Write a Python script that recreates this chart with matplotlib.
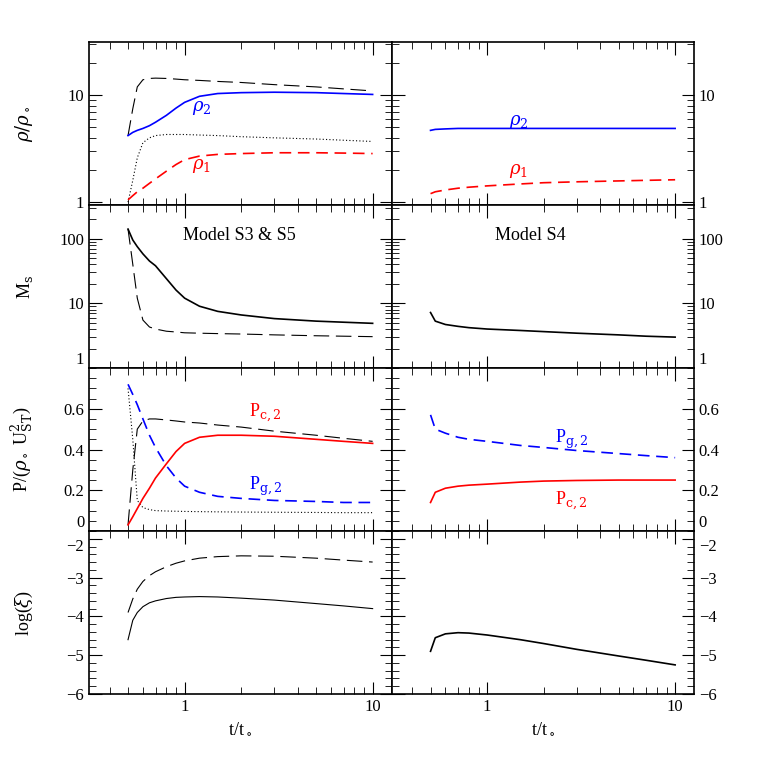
import matplotlib
matplotlib.use("Agg")
import matplotlib.pyplot as plt
from matplotlib.ticker import LogLocator, NullFormatter, FixedLocator, MultipleLocator

plt.rcParams["font.family"] = "Liberation Serif"
plt.rcParams["mathtext.fontset"] = "dejavuserif"

# ---- data ----
t_L = [0.5, 0.53, 0.56, 0.6, 0.65, 0.7, 0.8, 0.9, 1.0, 1.2, 1.5, 2.0, 3.0, 5.0, 7.0, 10.0]
rho2_L = [4.2, 4.5, 4.7, 4.9, 5.2, 5.6, 6.5, 7.6, 8.6, 9.8, 10.4, 10.6, 10.7, 10.6, 10.4, 10.2]
rhoD_L = [4.2, 7.5, 12.0, 14.0, 14.4, 14.5, 14.4, 14.2, 14.0, 13.8, 13.5, 13.2, 12.6, 12.0, 11.5, 11.0]
rhoP_L = [1.0, 1.6, 2.6, 3.6, 4.0, 4.2, 4.3, 4.3, 4.3, 4.25, 4.2, 4.1, 4.0, 3.9, 3.8, 3.7]
rho1_L = [1.05, 1.15, 1.25, 1.35, 1.5, 1.65, 1.95, 2.25, 2.5, 2.7, 2.8, 2.85, 2.9, 2.9, 2.88, 2.85]
t_R = [0.5, 0.53, 0.6, 0.7, 0.8, 1.0, 1.5, 2.0, 3.0, 5.0, 7.0, 10.0]
rho2_R = [4.7, 4.8, 4.85, 4.9, 4.9, 4.9, 4.9, 4.9, 4.9, 4.9, 4.9, 4.9]
rho1_R = [1.2, 1.25, 1.3, 1.35, 1.38, 1.42, 1.48, 1.52, 1.55, 1.58, 1.6, 1.62]

M_L = [140, 95, 75, 58, 45, 38, 24, 16, 12, 9.0, 7.5, 6.6, 5.8, 5.3, 5.1, 4.9]
MD_L = [140, 40, 12, 5.5, 4.3, 4.0, 3.7, 3.6, 3.5, 3.45, 3.4, 3.35, 3.25, 3.15, 3.1, 3.05]
M_R = [7.2, 5.3, 4.7, 4.4, 4.2, 4.0, 3.8, 3.65, 3.45, 3.25, 3.1, 3.0]

Pc_L = [0.03, 0.07, 0.11, 0.16, 0.21, 0.26, 0.33, 0.39, 0.43, 0.46, 0.47, 0.47, 0.465, 0.45, 0.44, 0.43]
Pg_L = [0.72, 0.67, 0.62, 0.55, 0.47, 0.41, 0.32, 0.26, 0.22, 0.19, 0.17, 0.16, 0.15, 0.145, 0.14, 0.14]
PD_L = [0.03, 0.3, 0.5, 0.54, 0.55, 0.55, 0.545, 0.54, 0.535, 0.53, 0.52, 0.51, 0.49, 0.47, 0.455, 0.44]
PP_L = [0.70, 0.45, 0.15, 0.115, 0.105, 0.1, 0.098, 0.097, 0.096, 0.095, 0.094, 0.093, 0.092, 0.091, 0.09, 0.09]
Pg_R = [0.57, 0.5, 0.48, 0.46, 0.45, 0.44, 0.42, 0.41, 0.395, 0.38, 0.37, 0.36]
Pc_R = [0.14, 0.19, 0.21, 0.22, 0.225, 0.23, 0.24, 0.245, 0.248, 0.25, 0.25, 0.25]

xi_L = [-4.6, -4.1, -3.9, -3.75, -3.65, -3.6, -3.54, -3.51, -3.5, -3.49, -3.5, -3.53, -3.58, -3.67, -3.73, -3.8]
xiD_L = [-3.9, -3.55, -3.3, -3.1, -2.95, -2.85, -2.72, -2.63, -2.57, -2.5, -2.46, -2.44, -2.45, -2.5, -2.55, -2.6]
xi_R = [-4.9, -4.55, -4.45, -4.42, -4.43, -4.48, -4.6, -4.7, -4.85, -5.02, -5.13, -5.25]

xlim = (0.31, 12.6)
ylims = [(0.94, 31.6), (1, 330), (0, 0.8), (-6, -1.8)]

fig = plt.figure(figsize=(7.63, 7.63), dpi=100)
gs = fig.add_gridspec(4, 2, left=89/763, right=694/763, top=1-42/763, bottom=1-694/763,
                      hspace=0, wspace=0)
axes = [[fig.add_subplot(gs[r, c]) for c in range(2)] for r in range(4)]

for c in range(2):
    for r in range(4):
        ax = axes[r][c]
        ax.set_xscale("log")
        ax.set_xlim(*xlim)
        if r < 2:
            ax.set_yscale("log")
        ax.set_ylim(*ylims[r])
        ax.tick_params(which="both", direction="in", top=True, right=True, labelsize=12)
        ax.tick_params(which="major", length=9)
        ax.tick_params(which="minor", length=5)
        ax.xaxis.set_major_locator(FixedLocator([1, 10]))
        ax.xaxis.set_minor_locator(LogLocator(subs=range(2, 10)))
        ax.xaxis.set_minor_formatter(NullFormatter())
        ax.set_xticklabels(["1", "10"])
        if r < 3:
            ax.tick_params(labelbottom=False)
        if c == 1:
            ax.tick_params(labelleft=False, labelright=True)
        for s in ax.spines.values():
            s.set_linewidth(1.2)

for ax in axes[0]:
    ax.yaxis.set_major_locator(FixedLocator([1, 10]))
    ax.yaxis.set_minor_locator(LogLocator(subs=range(2, 10)))
    ax.yaxis.set_minor_formatter(NullFormatter())
    ax.set_yticklabels(["1", "10"])
for ax in axes[1]:
    ax.yaxis.set_major_locator(FixedLocator([1, 10, 100]))
    ax.yaxis.set_minor_locator(LogLocator(subs=range(2, 10)))
    ax.yaxis.set_minor_formatter(NullFormatter())
    ax.set_yticklabels(["1", "10", "100"])
    for lab in ax.get_yticklabels()[:1]:
        lab.set_va("bottom")
for ax in axes[2]:
    ax.yaxis.set_major_locator(FixedLocator([0, 0.2, 0.4, 0.6]))
    ax.yaxis.set_minor_locator(MultipleLocator(0.05))
    ax.set_yticklabels(["0", "0.2", "0.4", "0.6"])
for ax in axes[3]:
    ax.yaxis.set_major_locator(FixedLocator([-6, -5, -4, -3, -2]))
    ax.yaxis.set_minor_locator(MultipleLocator(0.2))
    ax.set_yticklabels(["−6", "−5", "−4", "−3", "−2"])

# shift crowded labels at row boundaries
for r in (1, 2):
    for ax in axes[r]:
        for lab in ax.get_yticklabels(which="major"):
            if lab.get_text() in ("1", "0"):
                lab.set_va("bottom")
for ax in axes[3]:
    for lab in ax.get_yticklabels(which="major"):
        if lab.get_text() == "−2":
            lab.set_va("top")

ld = (0, (14, 6))
a = axes[0][0]
a.plot(t_L, rhoD_L, color="black", lw=0.8, ls=ld)
a.plot(t_L, rhoP_L, color="black", lw=0.8, ls=(0, (1, 2)))
a.plot(t_L, rho2_L, color="blue", lw=1.2)
a.plot(t_L, rho1_L, color="red", lw=1.2, ls=(0, (7, 4)))
a.text(1.1, 7.2, r"$\rho_2$", color="blue", fontsize=13)
a.text(1.1, 2.05, r"$\rho_1$", color="red", fontsize=13)
a.set_ylabel(r"$\rho/\rho_\circ$", fontsize=13)

a = axes[0][1]
a.plot(t_R, rho2_R, color="blue", lw=1.2)
a.plot(t_R, rho1_R, color="red", lw=1.2, ls=(0, (7, 4)))
a.text(1.3, 5.3, r"$\rho_2$", color="blue", fontsize=13)
a.text(1.3, 1.85, r"$\rho_1$", color="red", fontsize=13)

a = axes[1][0]
a.plot(t_L, MD_L, color="black", lw=0.8, ls=ld)
a.plot(t_L, M_L, color="black", lw=1.2)
a.text(0.98, 95, "Model S3 & S5", fontsize=13)
a.set_ylabel(r"M$_{\rm s}$", fontsize=13)
a = axes[1][1]
a.plot(t_R, M_R, color="black", lw=1.2)
a.text(1.1, 95, "Model S4", fontsize=13)

a = axes[2][0]
a.plot(t_L, PD_L, color="black", lw=0.8, ls=ld)
a.plot(t_L, PP_L, color="black", lw=0.8, ls=(0, (1, 2)))
a.plot(t_L, Pc_L, color="red", lw=1.2)
a.plot(t_L, Pg_L, color="blue", lw=1.2, ls=(0, (7, 4)))
a.text(2.2, 0.56, r"P$_{\rm c,2}$", color="red", fontsize=13)
a.text(2.2, 0.2, r"P$_{\rm g,2}$", color="blue", fontsize=13)
a.set_ylabel(r"P/($\rho_\circ$ U$^2_{\rm ST}$)", fontsize=13)
a = axes[2][1]
a.plot(t_R, Pg_R, color="blue", lw=1.2, ls=(0, (7, 4)))
a.plot(t_R, Pc_R, color="red", lw=1.2)
a.text(2.3, 0.43, r"P$_{\rm g,2}$", color="blue", fontsize=13)
a.text(2.3, 0.13, r"P$_{\rm c,2}$", color="red", fontsize=13)

a = axes[3][0]
a.plot(t_L, xiD_L, color="black", lw=0.8, ls=ld)
a.plot(t_L, xi_L, color="black", lw=0.8)
a.set_ylabel(r"log($\xi$)", fontsize=13)
a.set_xlabel(r"t/t$_\circ$", fontsize=13)
a = axes[3][1]
a.plot(t_R, xi_R, color="black", lw=1.2)
a.set_xlabel(r"t/t$_\circ$", fontsize=13)

for ax in axes[0][0], axes[1][0], axes[2][0], axes[3][0]:
    ax.yaxis.set_label_coords(-0.18, 0.5)

fig.savefig("out.png", dpi=100)
